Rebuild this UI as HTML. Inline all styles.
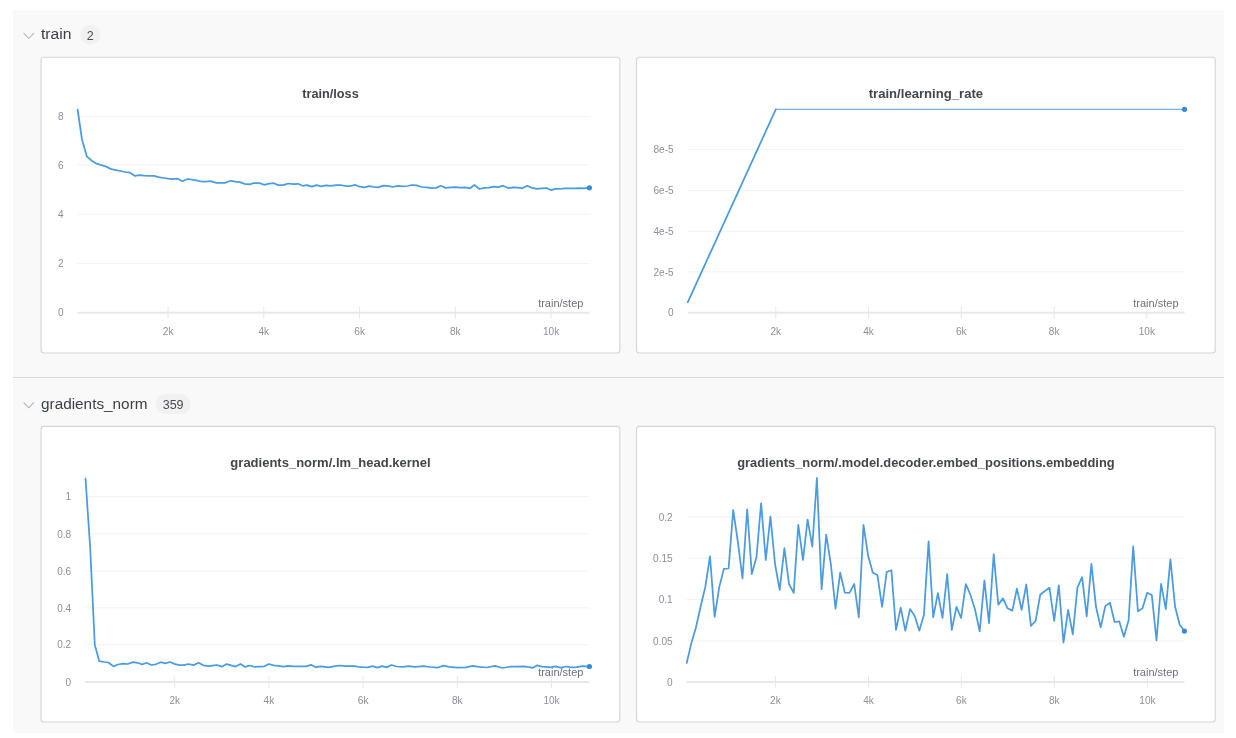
<!DOCTYPE html>
<html lang="en">
<head>
<meta charset="utf-8">
<title>Charts</title>
<style>
html,body{margin:0;padding:0;background:#fff;}
body{width:1236px;height:738px;position:relative;overflow:hidden;font-family:"Liberation Sans",sans-serif;}
.bank{position:absolute;left:13px;top:10px;width:1211px;height:723px;background:#f9f9f9;}
.divider{position:absolute;left:13px;top:377px;width:1211px;height:1px;background:#dadada;}
.hdr{position:absolute;left:0;display:block;will-change:transform;font-family:"Liberation Sans",sans-serif;}
.hdr .name{font-size:15px;fill:#3c4048;}
.hdr .cnt{font-size:12.5px;fill:#484c54;}
.chart{position:absolute;display:block;will-change:transform;font-family:"Liberation Sans",sans-serif;}
.cardr{fill:#fff;stroke:#d6d6d6;stroke-width:1.15;}
.ttl{font-size:13.6px;font-weight:700;fill:#42464e;}
.yl,.xl{font-size:11.2px;fill:#8d909c;}
.xt{font-size:11px;fill:#6d7080;}
.g{stroke:#f2f2f3;stroke-width:1;}
.ax{stroke:#e8e8ec;stroke-width:2;}
.tk{stroke:#e7e7ec;stroke-width:1;}
.ln{fill:none;stroke:#4a9bdf;stroke-width:1.75;stroke-linejoin:round;stroke-linecap:round;}
</style>
</head>
<body>
<div class="bank"></div>
<div class="divider"></div>
<svg class="hdr" style="top:10px" width="400" height="46" viewBox="0 10 400 46">
<path d="M23.9 33.4 L28.8 38.5 L33.7 33.4" fill="none" stroke="#b1b3b8" stroke-width="1.05" stroke-linecap="round" stroke-linejoin="round"/>
<text class="name" transform="translate(41 39.4) scale(1.045 1)">train</text>
<rect x="80.3" y="24.8" width="20" height="20" rx="10" fill="#f1f1f1"/>
<text class="cnt" transform="translate(90.3 39.5)" text-anchor="middle">2</text>
</svg>
<svg class="chart" style="left:38px;top:54px" width="585" height="303" viewBox="38 54 585 303">
<rect class="cardr" x="41.06" y="57.2" width="578.81" height="295.8" rx="3"/>
<text class="ttl" transform="translate(330.5 98.1) scale(0.935 1)" text-anchor="middle">train/loss</text>
<line class="g" x1="77.5" x2="589.4" y1="116.4" y2="116.4"/>
<text class="yl" transform="translate(63.6 120) scale(0.9 1)" text-anchor="end">8</text>
<line class="g" x1="77.5" x2="589.4" y1="165" y2="165"/>
<text class="yl" transform="translate(63.6 168.6) scale(0.9 1)" text-anchor="end">6</text>
<line class="g" x1="77.5" x2="589.4" y1="214.1" y2="214.1"/>
<text class="yl" transform="translate(63.6 217.7) scale(0.9 1)" text-anchor="end">4</text>
<line class="g" x1="77.5" x2="589.4" y1="263.6" y2="263.6"/>
<text class="yl" transform="translate(63.6 267.2) scale(0.9 1)" text-anchor="end">2</text>
<line class="ax" x1="77.5" x2="589.4" y1="312.8" y2="312.8"/>
<text class="yl" transform="translate(63.6 316.4) scale(0.9 1)" text-anchor="end">0</text>
<line class="tk" x1="168.1" x2="168.1" y1="306.8" y2="318.8"/>
<text class="xl" transform="translate(168.1 334.9) scale(0.9 1)" text-anchor="middle">2k</text>
<line class="tk" x1="263.8" x2="263.8" y1="306.8" y2="318.8"/>
<text class="xl" transform="translate(263.8 334.9) scale(0.9 1)" text-anchor="middle">4k</text>
<line class="tk" x1="359.6" x2="359.6" y1="306.8" y2="318.8"/>
<text class="xl" transform="translate(359.6 334.9) scale(0.9 1)" text-anchor="middle">6k</text>
<line class="tk" x1="455.3" x2="455.3" y1="306.8" y2="318.8"/>
<text class="xl" transform="translate(455.3 334.9) scale(0.9 1)" text-anchor="middle">8k</text>
<line class="tk" x1="551.1" x2="551.1" y1="306.8" y2="318.8"/>
<text class="xl" transform="translate(551.1 334.9) scale(0.9 1)" text-anchor="middle">10k</text>
<text class="xt" x="583.4" y="307.1" text-anchor="end">train/step</text>
<polyline class="ln" points="77.6,109.5 82,139.5 86.8,156.3 91.7,160.7 96.6,163.7 101.5,165.1 106.3,166.6 111.3,169.2 116.1,170.2 120.5,171 125.3,172 130,172.7 134.7,175.8 139.5,175.2 144.6,175.7 149,175.8 154.2,175.8 158.5,177.1 163.7,178 168.1,178.7 172.4,179.2 177.6,178.7 182.4,181.2 187.5,179 192.2,179.6 197.3,180.6 201.7,181.5 206.1,181.5 210.5,181.2 216.3,182.8 220.7,182.8 225.4,182.8 230.5,180.8 235.4,181.7 239.8,182.2 244.6,183.8 249.5,184.4 253.8,183.2 259.7,183.1 264,184.8 269.1,183.6 273.8,183.2 278.2,185.1 283.4,185.1 288.1,183.5 293.2,184.1 298,183.8 302.6,185.8 307,185.1 311.8,186.7 316.5,185.2 321.3,186.3 325.9,185.4 331,185.8 336.1,185.1 340.5,185.2 345.6,186 350.7,186 355,184.8 359.7,186.7 364.5,187.3 368.9,186.1 373.7,186.8 378.3,187.3 383.4,185.7 387.8,185.8 392.9,187 397.6,185.8 402.4,186.3 407.5,186 412.1,185 416.9,185.4 421.6,187 426.7,187.4 431.7,188.2 436.1,187.9 440.9,185.8 445.6,187.9 450.7,187.4 455.5,187.1 460.1,187.7 465,187.3 470,188.3 474.4,185 479.5,189 484.2,187.9 489,187.6 493.6,186.7 498.4,187.1 503.1,185.7 508.6,188.2 513.3,187.4 517.7,187.7 522.5,188.3 527.1,185.8 531.9,187.9 537,188.9 541.7,188.3 546.5,188 551.2,190.2 556,188.7 560.6,189 565,188.3 570.1,188.3 574.5,188.4 579.6,188.2 583.9,188.3 589.4,187.8"/>
<circle cx="589.4" cy="187.8" r="2.6" fill="#338cd8"/>
</svg>
<svg class="chart" style="left:633px;top:54px" width="586" height="303" viewBox="633 54 586 303">
<rect class="cardr" x="636.5" y="57.2" width="578.75" height="295.8" rx="3"/>
<text class="ttl" transform="translate(925.9 98.1) scale(0.965 1)" text-anchor="middle">train/learning_rate</text>
<line class="g" x1="687.7" x2="1184.5" y1="149.6" y2="149.6"/>
<text class="yl" transform="translate(673.6 153.2) scale(0.9 1)" text-anchor="end">8e-5</text>
<line class="g" x1="687.7" x2="1184.5" y1="190.6" y2="190.6"/>
<text class="yl" transform="translate(673.6 194.2) scale(0.9 1)" text-anchor="end">6e-5</text>
<line class="g" x1="687.7" x2="1184.5" y1="231.3" y2="231.3"/>
<text class="yl" transform="translate(673.6 234.9) scale(0.9 1)" text-anchor="end">4e-5</text>
<line class="g" x1="687.7" x2="1184.5" y1="271.9" y2="271.9"/>
<text class="yl" transform="translate(673.6 275.5) scale(0.9 1)" text-anchor="end">2e-5</text>
<line class="ax" x1="687.7" x2="1184.5" y1="312.8" y2="312.8"/>
<text class="yl" transform="translate(673.6 316.4) scale(0.9 1)" text-anchor="end">0</text>
<line class="tk" x1="775.8" x2="775.8" y1="306.8" y2="318.8"/>
<text class="xl" transform="translate(775.8 334.9) scale(0.9 1)" text-anchor="middle">2k</text>
<line class="tk" x1="868.5" x2="868.5" y1="306.8" y2="318.8"/>
<text class="xl" transform="translate(868.5 334.9) scale(0.9 1)" text-anchor="middle">4k</text>
<line class="tk" x1="961.3" x2="961.3" y1="306.8" y2="318.8"/>
<text class="xl" transform="translate(961.3 334.9) scale(0.9 1)" text-anchor="middle">6k</text>
<line class="tk" x1="1054.1" x2="1054.1" y1="306.8" y2="318.8"/>
<text class="xl" transform="translate(1054.1 334.9) scale(0.9 1)" text-anchor="middle">8k</text>
<line class="tk" x1="1146.8" x2="1146.8" y1="306.8" y2="318.8"/>
<text class="xl" transform="translate(1146.8 334.9) scale(0.9 1)" text-anchor="middle">10k</text>
<text class="xt" x="1178.5" y="307.1" text-anchor="end">train/step</text>
<polyline class="ln" style="stroke:#72b3e8;stroke-width:1.35" points="775.8,109.3 1184.5,109.3"/>
<polyline class="ln" points="687.7,302.3 775.8,109.3"/>
<circle cx="1184.5" cy="109.3" r="2.6" fill="#338cd8"/>
</svg>
<svg class="hdr" style="top:379px" width="400" height="46" viewBox="0 379 400 46">
<path d="M23.9 402.7 L28.8 407.8 L33.7 402.7" fill="none" stroke="#b1b3b8" stroke-width="1.05" stroke-linecap="round" stroke-linejoin="round"/>
<text class="name" transform="translate(41 408.7) scale(1.023 1)">gradients_norm</text>
<rect x="155.6" y="394.1" width="35" height="20" rx="10" fill="#f1f1f1"/>
<text class="cnt" transform="translate(173.1 408.8)" text-anchor="middle">359</text>
</svg>
<svg class="chart" style="left:38px;top:423px" width="585" height="303" viewBox="38 423 585 303">
<rect class="cardr" x="41.06" y="426.3" width="578.81" height="295.7" rx="3"/>
<text class="ttl" transform="translate(330.5 467.2) scale(0.958 1)" text-anchor="middle">gradients_norm/.lm_head.kernel</text>
<line class="g" x1="85.5" x2="589.4" y1="496.7" y2="496.7"/>
<text class="yl" transform="translate(71.2 500.3) scale(0.9 1)" text-anchor="end">1</text>
<line class="g" x1="85.5" x2="589.4" y1="533.9" y2="533.9"/>
<text class="yl" transform="translate(71.2 537.5) scale(0.9 1)" text-anchor="end">0.8</text>
<line class="g" x1="85.5" x2="589.4" y1="570.9" y2="570.9"/>
<text class="yl" transform="translate(71.2 574.5) scale(0.9 1)" text-anchor="end">0.6</text>
<line class="g" x1="85.5" x2="589.4" y1="607.9" y2="607.9"/>
<text class="yl" transform="translate(71.2 611.5) scale(0.9 1)" text-anchor="end">0.4</text>
<line class="g" x1="85.5" x2="589.4" y1="644.8" y2="644.8"/>
<text class="yl" transform="translate(71.2 648.4) scale(0.9 1)" text-anchor="end">0.2</text>
<line class="ax" x1="85.5" x2="589.4" y1="682.1" y2="682.1"/>
<text class="yl" transform="translate(71.2 685.7) scale(0.9 1)" text-anchor="end">0</text>
<line class="tk" x1="174.7" x2="174.7" y1="676.1" y2="688.1"/>
<text class="xl" transform="translate(174.7 704.2) scale(0.9 1)" text-anchor="middle">2k</text>
<line class="tk" x1="268.9" x2="268.9" y1="676.1" y2="688.1"/>
<text class="xl" transform="translate(268.9 704.2) scale(0.9 1)" text-anchor="middle">4k</text>
<line class="tk" x1="363.1" x2="363.1" y1="676.1" y2="688.1"/>
<text class="xl" transform="translate(363.1 704.2) scale(0.9 1)" text-anchor="middle">6k</text>
<line class="tk" x1="457.3" x2="457.3" y1="676.1" y2="688.1"/>
<text class="xl" transform="translate(457.3 704.2) scale(0.9 1)" text-anchor="middle">8k</text>
<line class="tk" x1="551.5" x2="551.5" y1="676.1" y2="688.1"/>
<text class="xl" transform="translate(551.5 704.2) scale(0.9 1)" text-anchor="middle">10k</text>
<text class="xt" x="583.4" y="676.4" text-anchor="end">train/step</text>
<polyline class="ln" points="85.5,478.5 90.2,548 94.8,645 99.3,661.2 104.2,662 108.3,662.5 113.5,666.4 118,664.5 122.9,663.7 127.8,664 133,662.2 137.6,662.8 142.1,664.5 146.5,662.8 151.4,665 155.8,664.3 160.7,662.2 165.2,663.3 170.1,662 175,664.1 179.8,665.1 183.9,665.1 188.3,664 193.7,665.1 198.5,662.8 203.4,665.3 208.3,666.1 212.4,665.6 216.9,665 221.8,666.7 226.5,664.1 231.1,665.4 235.6,666.6 240.5,664 245.2,666.9 249.6,665.5 254.7,666.9 259.4,666.7 264.1,666.5 268.8,664 273.6,665.3 278.7,665.8 283.1,666.6 288.2,665.8 293.2,666.4 298,666.4 302,666.4 306.4,666.4 311,664.8 315.8,667.2 320.9,666.4 325,666.9 328.2,667.4 335.5,666.2 340.1,665.5 344.9,666.2 349.6,666.2 354.4,666.2 358.8,666.9 363,667.2 367.5,667.4 372.6,666.2 377.4,667.7 382.1,666.2 386.7,667.4 391.5,665 396.6,666.5 402.5,666.8 409,666.2 415,666.9 423.7,666.2 430,667 437.6,667.7 443.4,665.6 449.2,666.8 457.2,667.7 466,667.4 472.5,665.9 479.1,666.8 486.4,667.5 495.1,665.9 502.4,668 511.1,666.5 517,666.5 524.2,666.4 533,667.8 537.3,665.3 541.7,666.6 550.4,667.4 555.5,666.4 560.6,667.7 566.5,666.5 571.5,667.4 576.6,667.1 582.5,666.2 589.4,666.5"/>
<circle cx="589.4" cy="666.5" r="2.6" fill="#338cd8"/>
</svg>
<svg class="chart" style="left:633px;top:423px" width="586" height="303" viewBox="633 423 586 303">
<rect class="cardr" x="636.5" y="426.3" width="578.75" height="295.7" rx="3"/>
<text class="ttl" transform="translate(925.9 467.1) scale(0.948 1)" text-anchor="middle">gradients_norm/.model.decoder.embed_positions.embedding</text>
<line class="g" x1="686.7" x2="1184.4" y1="516.9" y2="516.9"/>
<text class="yl" transform="translate(672.7 520.5) scale(0.9 1)" text-anchor="end">0.2</text>
<line class="g" x1="686.7" x2="1184.4" y1="558.2" y2="558.2"/>
<text class="yl" transform="translate(672.7 561.8) scale(0.9 1)" text-anchor="end">0.15</text>
<line class="g" x1="686.7" x2="1184.4" y1="599.5" y2="599.5"/>
<text class="yl" transform="translate(672.7 603.1) scale(0.9 1)" text-anchor="end">0.1</text>
<line class="g" x1="686.7" x2="1184.4" y1="641" y2="641"/>
<text class="yl" transform="translate(672.7 644.6) scale(0.9 1)" text-anchor="end">0.05</text>
<line class="ax" x1="686.7" x2="1184.4" y1="682.1" y2="682.1"/>
<text class="yl" transform="translate(672.7 685.7) scale(0.9 1)" text-anchor="end">0</text>
<line class="tk" x1="775.4" x2="775.4" y1="676.1" y2="688.1"/>
<text class="xl" transform="translate(775.4 704.2) scale(0.9 1)" text-anchor="middle">2k</text>
<line class="tk" x1="868.5" x2="868.5" y1="676.1" y2="688.1"/>
<text class="xl" transform="translate(868.5 704.2) scale(0.9 1)" text-anchor="middle">4k</text>
<line class="tk" x1="961.4" x2="961.4" y1="676.1" y2="688.1"/>
<text class="xl" transform="translate(961.4 704.2) scale(0.9 1)" text-anchor="middle">6k</text>
<line class="tk" x1="1054.3" x2="1054.3" y1="676.1" y2="688.1"/>
<text class="xl" transform="translate(1054.3 704.2) scale(0.9 1)" text-anchor="middle">8k</text>
<line class="tk" x1="1147.4" x2="1147.4" y1="676.1" y2="688.1"/>
<text class="xl" transform="translate(1147.4 704.2) scale(0.9 1)" text-anchor="middle">10k</text>
<text class="xt" x="1178.4" y="676.4" text-anchor="end">train/step</text>
<polyline class="ln" points="686.7,663 691.4,642.9 696,627.2 700.7,606.3 705.3,586.9 710,556.3 714.6,616.8 719.3,586.9 723.9,568.9 728.6,568.5 733.2,510 737.9,542.1 742.5,578.5 747.2,509.3 751.8,574.1 756.5,557 761.1,503.3 765.8,560 770.4,516.7 775.1,564.5 779.7,589.9 784.4,548.1 789,584 793.7,592.9 798.3,524.9 803,560 807.6,519.7 812.3,546.6 816.9,478 821.6,589.2 826.2,534.6 830.9,564.5 835.5,608.6 840.2,572.7 844.8,592.6 849.5,592.9 854.2,584 858.8,617.5 863.5,525 868.1,555.6 872.8,572.7 877.4,575 882.1,606.8 886.7,572 891.4,570.2 896,629.9 900.7,607.6 905.3,630.7 910,609.1 914.6,615.8 919.3,630.7 923.9,615 928.6,541.4 933.2,617.3 937.9,593.2 942.5,618 947.2,574.2 951.8,629.9 956.5,606.8 961.1,618 965.8,584.2 970.4,594.7 975.1,609.8 979.7,631.4 984.4,580.5 989,623.2 993.7,554.1 998.3,604.6 1003,598.4 1007.6,608.3 1012.3,610.6 1016.9,588.7 1021.6,609.8 1026.3,584.5 1030.9,625.9 1035.6,621 1040.2,594.8 1044.9,591 1049.5,587.8 1054.2,621 1058.8,585.3 1063.5,642.6 1068.1,609.8 1072.8,634.4 1077.4,587.6 1082.1,577.2 1086.7,616.5 1091.4,563.8 1096,606.8 1100.7,627.4 1105.3,606.1 1110,602.7 1114.6,622 1119.3,621.4 1123.9,636.7 1128.6,620.3 1133.2,546.4 1137.9,611.3 1142.5,608.3 1147.2,592.8 1151.8,595 1156.5,640.4 1161.1,583.8 1165.8,609.1 1170.4,559.3 1175.1,606.8 1179.7,624.7 1184.4,631.1"/>
<circle cx="1184.4" cy="631.1" r="2.6" fill="#338cd8"/>
</svg>
</body>
</html>
